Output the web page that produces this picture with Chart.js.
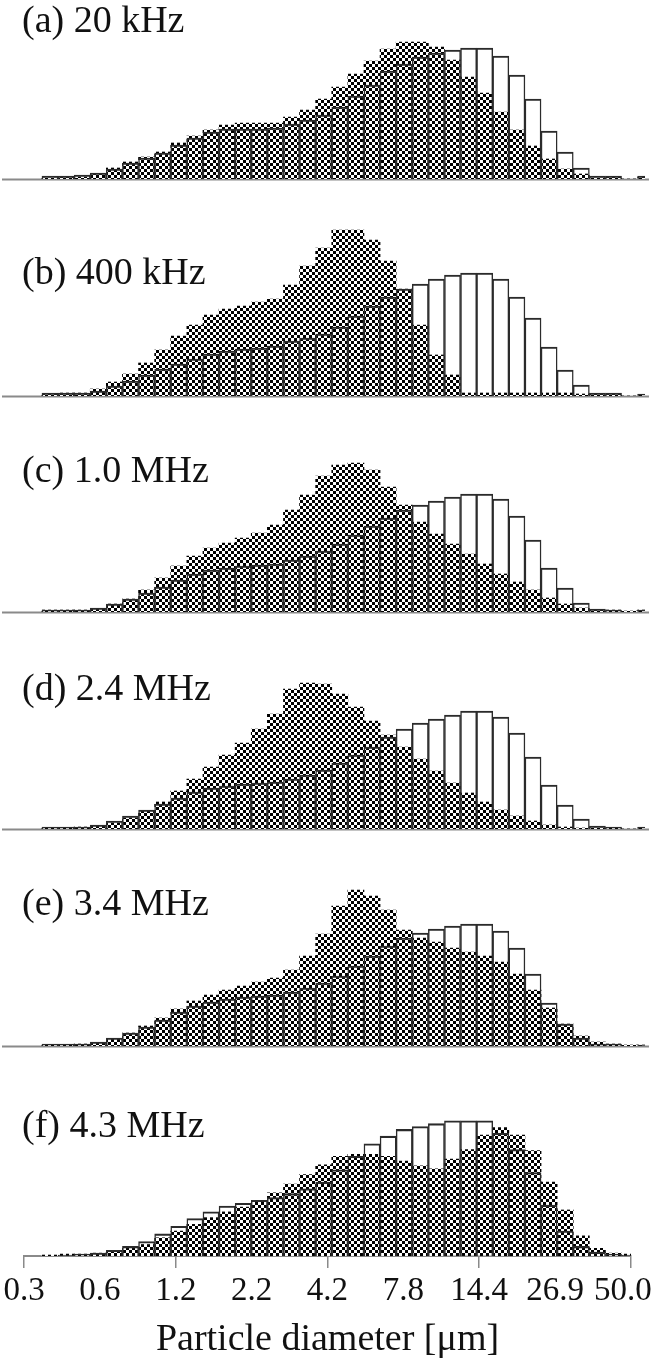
<!DOCTYPE html>
<html>
<head>
<meta charset="utf-8">
<script src="https://cdn.jsdelivr.net/npm/chart.js@4.4.1/dist/chart.umd.min.js"></script>
<style>
html,body{margin:0;padding:0;background:#fff;}
#wrap{position:relative;width:655px;height:1365px;overflow:hidden;background:#fff;}
#wrap canvas{position:absolute;left:0;}
.lbl{position:absolute;left:22px;font-family:"Liberation Serif","Times New Roman",serif;font-size:38px;line-height:38px;color:#111;white-space:nowrap;z-index:5;}
.xtitle{position:absolute;left:0;width:655px;text-align:center;font-family:"Liberation Serif","Times New Roman",serif;font-size:38px;line-height:38px;color:#111;white-space:nowrap;}
</style>
</head>
<body>
<div id="wrap"></div>
<script>
// ---- data ----
const binCenters = [0.4317,0.4925,0.5618,0.6408,0.7310,0.8339,0.9513,1.0852,1.2379,1.4122,1.6109,1.8377,2.0963,2.3914,2.7280,3.1119,3.5499,4.0496,4.6196,5.2698,6.0115,6.8576,7.8228,8.9238,10.180,11.613,13.247,15.112,17.239,19.665,22.433,25.590,29.192,33.301,37.988,43.335,49.434,56.392];
const tickValues = [0.349,0.649,1.208,2.246,4.177,7.770,14.45,26.88,50.0];
const tickLabels = ['0.3','0.6','1.2','2.2','4.2','7.8','14.4','26.9','50.0'];
const panelLabels = ['(a) 20 kHz','(b) 400 kHz','(c) 1.0 MHz','(d) 2.4 MHz','(e) 3.4 MHz','(f) 4.3 MHz'];
const axisTitle = 'Particle diameter [\u03bcm]';

const open_a  = [3,3,4,6,10,16,21,26,34,41,47,50,50,50,51,55,59,64,72,83,94,108,115,122,126,129,131,131,123,104,80,48,27,11,3,3,0,3];
const check_a = [1,2,2,5,11,17,22,27,36,43,49,54,56,56,56,62,69,80,92,105,118,130,137,137,132,119,102,86,67,49,33,20,10,5,1,2,0,2];

const open_b  = [3,3,3,5,10,15,21,27,32,37,42,45,47,48,50,55,58,62,69,80,90,99,107,112,117,121,123,123,117,99,78,49,26,11,3,3,0,2];
const check_b = [2,3,3,7,14,22,33,46,60,71,81,87,90,94,97,111,130,148,166,166,156,135,107,71,41,21,3,3,3,3,3,3,3,2,2,2,0,1];

const open_c  = [2,2,2,4,8,13,19,25,32,38,42,44,46,47,48,52,56,61,68,77,86,94,102,107,111,115,118,118,113,96,72,44,24,9,3,2,0,2];
const check_c = [2,2,2,3,8,13,22,34,46,56,64,69,74,79,87,102,117,136,147,149,142,125,107,90,78,68,58,48,38,30,22,14,8,4,2,2,1,2];

const open_d  = [2,2,2,4,8,13,19,25,31,37,41,43,45,46,47,50,54,59,66,74,82,92,100,106,110,114,118,118,112,96,72,44,24,10,3,2,0,2];
const check_d = [1,1,2,3,6,11,18,27,38,50,62,74,86,100,115,140,146,145,135,122,108,94,82,70,58,46,36,27,19,13,8,4,2,1,1,1,0,1];

const open_e  = [2,2,2,4,8,13,19,26,34,40,44,47,49,50,51,54,58,63,70,80,90,100,108,113,117,120,122,122,115,98,72,43,22,8,2,2,0,1];
const check_e = [1,1,2,3,7,13,20,28,37,45,51,56,60,64,68,76,90,112,140,156,150,136,116,108,104,98,94,90,84,72,56,38,22,10,4,2,1,1];

const open_f  = [0,1,2,3,6,10,15,23,31,39,46,52,55,58,61,65,70,77,90,104,117,125,132,135,138,141,141,141,128,111,87,53,26,10,4,2,1,0];
const check_f = [1,2,2,3,5,8,12,19,26,33,40,46,51,56,66,75,85,95,104,106,106,104,99,94,91,101,111,126,134,126,110,77,48,21,8,3,2,0];

const openSeries  = [open_a, open_b, open_c, open_d, open_e, open_f];
const checkSeries = [check_a, check_b, check_c, check_d, check_e, check_f];

// ---- layout ----
const baselines = [179, 396, 612, 829, 1046, 1263];
const labelBaselines = [32, 284, 482, 700, 915, 1137];
const Y_MAX = 170;
const AX_LEFT = 24, AX_RIGHT = 631;           // pixel of first / last tick
const pxPerLn = (AX_RIGHT - AX_LEFT) / Math.log(tickValues[tickValues.length-1] / tickValues[0]);
const wideMin = tickValues[0] * Math.exp((3 - AX_LEFT) / pxPerLn);
const wideMax = tickValues[tickValues.length-1] * Math.exp((645 - AX_RIGHT) / pxPerLn);

Chart.defaults.font.family = '"Liberation Serif","Times New Roman",serif';

function makePattern() {
  const c = document.createElement('canvas');
  c.width = 6; c.height = 6;
  const g = c.getContext('2d');
  g.fillStyle = '#ffffff'; g.fillRect(0, 0, 6, 6);
  g.fillStyle = '#000000'; g.fillRect(0, 0, 3, 3); g.fillRect(3, 3, 3, 3);
  return g.createPattern(c, 'repeat');
}
const checker = makePattern();

const baselinePlugin = {
  id: 'baseline',
  beforeDatasetsDraw(chart) {
    const a = chart.chartArea, ctx = chart.ctx;
    ctx.save();
    ctx.strokeStyle = '#8a8a8a';
    ctx.lineWidth = 2;
    ctx.beginPath();
    ctx.moveTo(a.left - 1, a.bottom + 0.5);
    ctx.lineTo(a.right + 4, a.bottom + 0.5);
    ctx.stroke();
    ctx.restore();
  }
};

const wrap = document.getElementById('wrap');

function makePanel(i) {
  const isBottom = (i === 5);
  const H = isBottom ? 226 : 175;
  const cv = document.createElement('canvas');
  cv.width = 655; cv.height = H;
  cv.style.width = '655px'; cv.style.height = H + 'px';
  cv.style.top = (baselines[i] - 172) + 'px';
  wrap.appendChild(cv);

  const lbl = document.createElement('div');
  lbl.className = 'lbl';
  lbl.textContent = panelLabels[i];
  lbl.style.top = (labelBaselines[i] - 32) + 'px';
  wrap.appendChild(lbl);

  const lastIdx = tickLabels.length - 1;
  const xScale = {
    type: 'logarithmic',
    offset: false,
    bounds: 'data',
    min: isBottom ? tickValues[0] : wideMin,
    max: isBottom ? tickValues[lastIdx] : wideMax,
    display: isBottom,
    afterBuildTicks: s => { s.ticks = tickValues.map(v => ({ value: v })); },
    afterFit: s => { s.paddingLeft = 0; s.paddingRight = 0; },
    border: { display: true, color: '#8a8a8a', width: 2 },
    grid: {
      display: true, offset: false, drawOnChartArea: false, drawTicks: true, tickLength: 12,
      lineWidth: 1.5,
      color: ctx => (ctx.index % 2 === 0 ? '#8a8a8a' : 'rgba(0,0,0,0)')
    },
    ticks: {
      autoSkip: false, maxRotation: 0, minRotation: 0, padding: 7,
      color: '#111',
      font: { size: 33, lineHeight: 1 },
      // the last label is nudged inward (trailing space) so it stays inside the page
      callback: (v, idx) => (idx === lastIdx ? tickLabels[idx] + '\u2002' : tickLabels[idx])
    }
  };

  new Chart(cv.getContext('2d'), {
    type: 'bar',
    data: {
      datasets: [
        {
          label: 'open',
          data: binCenters.map((d, k) => ({ x: d, y: openSeries[i][k] })),
          backgroundColor: 'rgba(0,0,0,0)',
          borderColor: '#2b2b2b',
          borderWidth: { top: 1.4, left: 0.8, right: 0.8, bottom: 0 },
          borderSkipped: 'start',
          grouped: false, order: 0,
          categoryPercentage: 1, barPercentage: 1
        },
        {
          label: 'check',
          data: binCenters.map((d, k) => ({ x: d, y: checkSeries[i][k] })),
          backgroundColor: checker,
          borderWidth: 0,
          grouped: false, order: 1,
          categoryPercentage: 1, barPercentage: 1
        }
      ]
    },
    options: {
      responsive: false, animation: false, devicePixelRatio: 1, events: [],
      layout: { padding: isBottom ? { left: AX_LEFT, right: 655 - AX_RIGHT, top: 2, bottom: 2 }
                                  : { left: 3, right: 10, top: 2, bottom: 3 } },
      plugins: { legend: { display: false }, tooltip: { enabled: false }, title: { display: false } },
      scales: {
        x: xScale,
        y: { display: false, min: 0, max: Y_MAX }
      }
    },
    plugins: isBottom ? [] : [baselinePlugin]
  });
}

for (let i = 0; i < 6; i++) makePanel(i);

const t = document.createElement('div');
t.className = 'xtitle';
t.textContent = axisTitle;
t.style.top = (1350 - 32) + 'px';
wrap.appendChild(t);
</script>
</body>
</html>
